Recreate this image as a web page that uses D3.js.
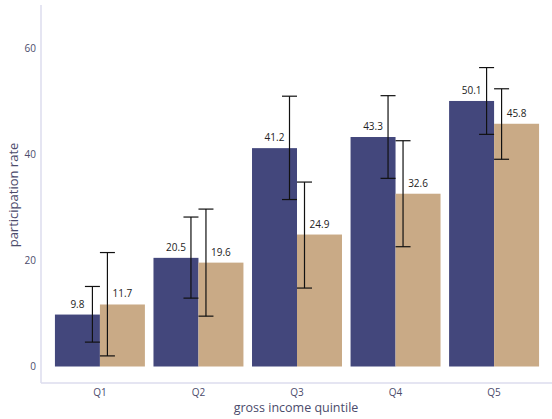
<!DOCTYPE html>
<html>
<head>
<meta charset="utf-8">
<script src="https://cdn.jsdelivr.net/npm/d3@7"></script>
<style>
body { margin: 0; background: #fff; }
svg text { font-family: "Open Sans", sans-serif; }
</style>
</head>
<body>
<svg id="chart"></svg>
<script>
var quintiles = ["Q1", "Q2", "Q3", "Q4", "Q5"];
var rateA = [9.8, 20.5, 41.2, 43.3, 50.1];
var lowA = [4.6, 12.9, 31.5, 35.5, 43.8];
var highA = [15.1, 28.2, 51.0, 51.1, 56.4];
var rateB = [11.7, 19.6, 24.9, 32.6, 45.8];
var lowB = [2.0, 9.5, 14.8, 22.6, 39.1];
var highB = [21.5, 29.7, 34.8, 42.6, 52.4];
var yTicks = [0, 20, 40, 60];

var width = 552;
var height = 419;

var svg = d3.select("#chart")
    .attr("width", width)
    .attr("height", height);

var xScale = d3.scaleBand()
    .domain(quintiles)
    .range([50.5, 543.5])
    .paddingInner(0.087)
    .paddingOuter(0.045);

var yScale = d3.scaleLinear()
    .domain([0, 60])
    .range([366.5, 48.5]);

var colA = "#43477c";
var colB = "#c9aa86";

// axis lines
svg.append("line")
    .attr("x1", 41).attr("x2", 41)
    .attr("y1", 5).attr("y2", 383)
    .attr("stroke", "#dcdcee").attr("stroke-width", 1.5);
svg.append("line")
    .attr("x1", 41).attr("x2", 552)
    .attr("y1", 383).attr("y2", 383)
    .attr("stroke", "#dcdcee").attr("stroke-width", 1.5);

// y tick labels
svg.selectAll("text.ytick")
    .data(yTicks)
    .enter()
    .append("text")
    .attr("class", "ytick")
    .attr("x", 36)
    .attr("y", function(d) { return yScale(d) + 3.5; })
    .attr("text-anchor", "end")
    .attr("font-size", 10)
    .attr("fill", "#4b4b6b")
    .text(function(d) { return d; });

// x tick labels
svg.selectAll("text.xtick")
    .data(quintiles)
    .enter()
    .append("text")
    .attr("class", "xtick")
    .attr("x", function(d) { return xScale(d) + xScale.bandwidth() / 2; })
    .attr("y", 396)
    .attr("text-anchor", "middle")
    .attr("font-size", 10)
    .attr("fill", "#4b4b6b")
    .text(function(d) { return d; });

// axis titles
svg.append("text")
    .attr("x", 296)
    .attr("y", 412)
    .attr("text-anchor", "middle")
    .attr("font-size", 12.5)
    .attr("fill", "#4b4b6b")
    .text("gross income quintile");

svg.append("text")
    .attr("transform", "translate(18,195) rotate(-90)")
    .attr("text-anchor", "middle")
    .attr("font-size", 13)
    .attr("fill", "#4b4b6b")
    .text("participation rate");

var rows = quintiles.map(function(q, i) {
    return {q: q, a: rateA[i], aLo: lowA[i], aHi: highA[i],
            b: rateB[i], bLo: lowB[i], bHi: highB[i]};
});

var half = xScale.bandwidth() / 2;

var groups = svg.selectAll("g.grp")
    .data(rows)
    .enter()
    .append("g")
    .attr("class", "grp")
    .attr("transform", function(d) { return "translate(" + xScale(d.q) + ",0)"; });

groups.append("rect")
    .attr("x", 0)
    .attr("width", half)
    .attr("y", function(d) { return yScale(d.a); })
    .attr("height", function(d) { return yScale(0) - yScale(d.a); })
    .attr("fill", colA);

groups.append("rect")
    .attr("x", half)
    .attr("width", half)
    .attr("y", function(d) { return yScale(d.b); })
    .attr("height", function(d) { return yScale(0) - yScale(d.b); })
    .attr("fill", colB);

var errBar = function(sel, off, lo, hi) {
    var cx = half + off;
    sel.append("line")
        .attr("x1", cx).attr("x2", cx)
        .attr("y1", function(d) { return yScale(d[lo]); })
        .attr("y2", function(d) { return yScale(d[hi]); })
        .attr("stroke", "#111").attr("stroke-width", 1.2);
    [lo, hi].forEach(function(k) {
        sel.append("line")
            .attr("x1", cx - 7.5).attr("x2", cx + 7.5)
            .attr("y1", function(d) { return yScale(d[k]); })
            .attr("y2", function(d) { return yScale(d[k]); })
            .attr("stroke", "#111").attr("stroke-width", 1.2);
    });
};
errBar(groups, -7.5, "aLo", "aHi");
errBar(groups, 7.5, "bLo", "bHi");

groups.append("text")
    .attr("x", half / 2)
    .attr("y", function(d) { return yScale(d.a) - 7; })
    .attr("text-anchor", "middle")
    .attr("font-size", 10)
    .attr("fill", "#222")
    .text(function(d) { return d.a.toFixed(1); });

groups.append("text")
    .attr("x", half * 1.5)
    .attr("y", function(d) { return yScale(d.b) - 7; })
    .attr("text-anchor", "middle")
    .attr("font-size", 10)
    .attr("fill", "#222")
    .text(function(d) { return d.b.toFixed(1); });
</script>
</body>
</html>
